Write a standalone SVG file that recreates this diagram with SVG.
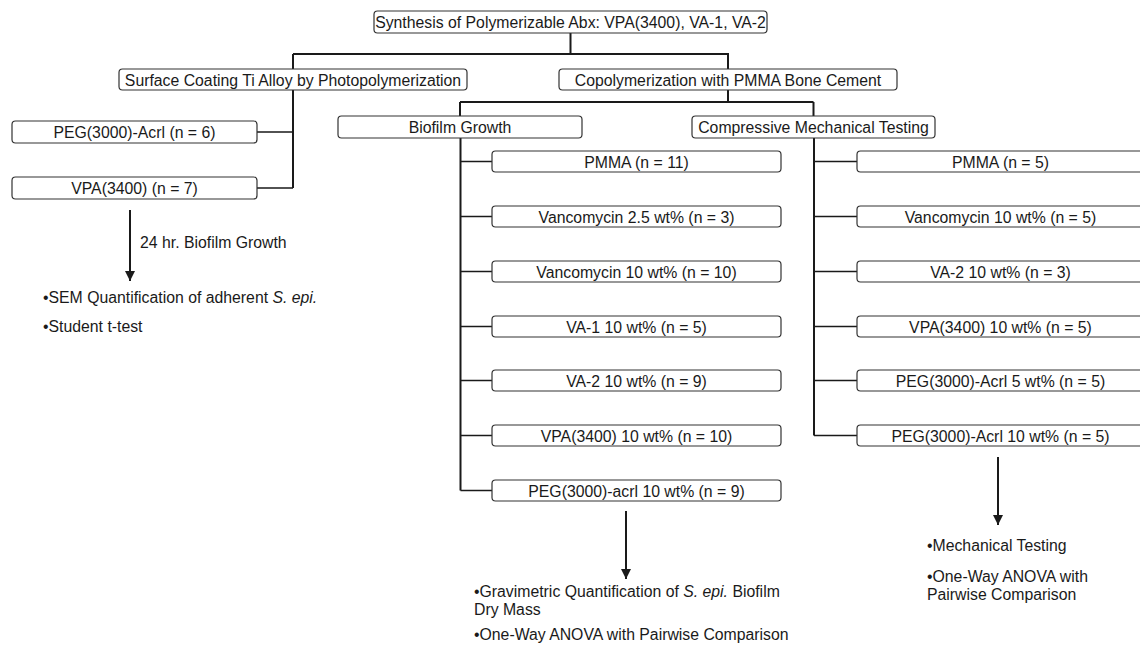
<svg xmlns="http://www.w3.org/2000/svg" width="1140" height="646" viewBox="0 0 1140 646">
<style>
  .box{fill:#fff;stroke:#333;stroke-width:1.2}
  .t{font-family:"Liberation Sans",Arial,Helvetica,sans-serif;font-size:15.8px;fill:#1a1a1a}
  .c{text-anchor:middle}
  .ln{fill:none;stroke:#1a1a1a;stroke-width:2}
  .br{fill:none;stroke:#1a1a1a;stroke-width:1.5}
</style>
<defs>
  <marker id="ah" viewBox="0 0 10 10" refX="10" refY="5" markerWidth="10" markerHeight="11" markerUnits="userSpaceOnUse" orient="auto">
    <path d="M0,0 L10,5 L0,10 Z" fill="#1a1a1a"/>
  </marker>
</defs>
<rect width="1140" height="646" fill="#fff"/>
<g id="connectors">
  <path class="ln" d="M570.5,33 V54 M293,54 H728 V69 M293,54 V188"/>
  <path class="br" d="M257,132 H293 M257,188 H293"/>
  <path class="ln" d="M728,90 V102 M460,102 H813.5 M460,102 V116 M813.5,102 V116"/>
  <path class="ln" d="M460.5,138 V490.5"/>
  <path class="br" d="M460.5,161.5 H492 M460.5,216.5 H492 M460.5,271.5 H492 M460.5,326.5 H492 M460.5,380.5 H492 M460.5,435.5 H492 M460.5,490.5 H492"/>
  <path class="ln" d="M814,138 V435.5"/>
  <path class="br" d="M814,161.5 H857 M814,216.5 H857 M814,271.5 H857 M814,326.5 H857 M814,380.5 H857 M814,435.5 H857"/>
  <path class="ln" d="M130,210 V281" marker-end="url(#ah)"/>
  <path class="ln" d="M626,511 V579" marker-end="url(#ah)"/>
  <path class="ln" d="M998,457 V525" marker-end="url(#ah)"/>
</g>
<g id="n-top"><rect class="box" x="374" y="11" width="393" height="22" rx="3.5"/><text class="t c" x="570.5" y="28">Synthesis of Polymerizable Abx: VPA(3400), VA-1, VA-2</text></g>
<g id="n-surface"><rect class="box" x="119" y="69" width="348" height="21" rx="3.5"/><text class="t c" x="293" y="85.5">Surface Coating Ti Alloy by Photopolymerization</text></g>
<g id="n-copoly"><rect class="box" x="559" y="69" width="338" height="21" rx="3.5"/><text class="t c" x="728" y="85.5">Copolymerization with PMMA Bone Cement</text></g>
<g id="n-peg-left"><rect class="box" x="12" y="121" width="245" height="22" rx="3.5"/><text class="t c" x="134.5" y="138">PEG(3000)-Acrl (n = 6)</text></g>
<g id="n-vpa-left"><rect class="box" x="12" y="177" width="245" height="22" rx="3.5"/><text class="t c" x="134.5" y="194">VPA(3400) (n = 7)</text></g>
<g id="n-biofilm"><rect class="box" x="338" y="116" width="244" height="22" rx="3.5"/><text class="t c" x="460" y="133">Biofilm Growth</text></g>
<g id="n-compressive"><rect class="box" x="692" y="116" width="243" height="22" rx="3.5"/><text class="t c" x="813.5" y="133">Compressive Mechanical Testing</text></g>
<g id="n-b1"><rect class="box" x="492" y="151" width="289" height="21" rx="3.5"/><text class="t c" x="636.5" y="167.5">PMMA (n = 11)</text></g>
<g id="n-b2"><rect class="box" x="492" y="206" width="289" height="21" rx="3.5"/><text class="t c" x="636.5" y="222.5">Vancomycin 2.5 wt% (n = 3)</text></g>
<g id="n-b3"><rect class="box" x="492" y="261" width="289" height="21" rx="3.5"/><text class="t c" x="636.5" y="277.5">Vancomycin 10 wt% (n = 10)</text></g>
<g id="n-b4"><rect class="box" x="492" y="316" width="289" height="21" rx="3.5"/><text class="t c" x="636.5" y="332.5">VA-1 10 wt% (n = 5)</text></g>
<g id="n-b5"><rect class="box" x="492" y="370" width="289" height="21" rx="3.5"/><text class="t c" x="636.5" y="386.5">VA-2 10 wt% (n = 9)</text></g>
<g id="n-b6"><rect class="box" x="492" y="425" width="289" height="21" rx="3.5"/><text class="t c" x="636.5" y="441.5">VPA(3400) 10 wt% (n = 10)</text></g>
<g id="n-b7"><rect class="box" x="492" y="480" width="289" height="21" rx="3.5"/><text class="t c" x="636.5" y="496.5">PEG(3000)-acrl 10 wt% (n = 9)</text></g>
<g id="n-m1"><rect class="box" x="857" y="151" width="287" height="21" rx="3.5"/><text class="t c" x="1000.5" y="167.5">PMMA (n = 5)</text></g>
<g id="n-m2"><rect class="box" x="857" y="206" width="287" height="21" rx="3.5"/><text class="t c" x="1000.5" y="222.5">Vancomycin 10 wt% (n = 5)</text></g>
<g id="n-m3"><rect class="box" x="857" y="261" width="287" height="21" rx="3.5"/><text class="t c" x="1000.5" y="277.5">VA-2 10 wt% (n = 3)</text></g>
<g id="n-m4"><rect class="box" x="857" y="316" width="287" height="21" rx="3.5"/><text class="t c" x="1000.5" y="332.5">VPA(3400) 10 wt% (n = 5)</text></g>
<g id="n-m5"><rect class="box" x="857" y="370" width="287" height="21" rx="3.5"/><text class="t c" x="1000.5" y="386.5">PEG(3000)-Acrl 5 wt% (n = 5)</text></g>
<g id="n-m6"><rect class="box" x="857" y="425" width="287" height="21" rx="3.5"/><text class="t c" x="1000.5" y="441.5">PEG(3000)-Acrl 10 wt% (n = 5)</text></g>
<g id="labels">
  <text class="t" x="140" y="248">24 hr. Biofilm Growth</text>
  <text class="t" x="43" y="303">•SEM Quantification of adherent <tspan font-style="italic">S. epi.</tspan></text>
  <text class="t" x="43" y="332">•Student t-test</text>
  <text class="t" x="474" y="597">•Gravimetric Quantification of <tspan font-style="italic">S. epi.</tspan> Biofilm</text>
  <text class="t" x="474" y="615">Dry Mass</text>
  <text class="t" x="474" y="640">•One-Way ANOVA with Pairwise Comparison</text>
  <text class="t" x="927" y="551">•Mechanical Testing</text>
  <text class="t" x="927" y="582">•One-Way ANOVA with</text>
  <text class="t" x="927" y="600">Pairwise Comparison</text>
</g>
</svg>
